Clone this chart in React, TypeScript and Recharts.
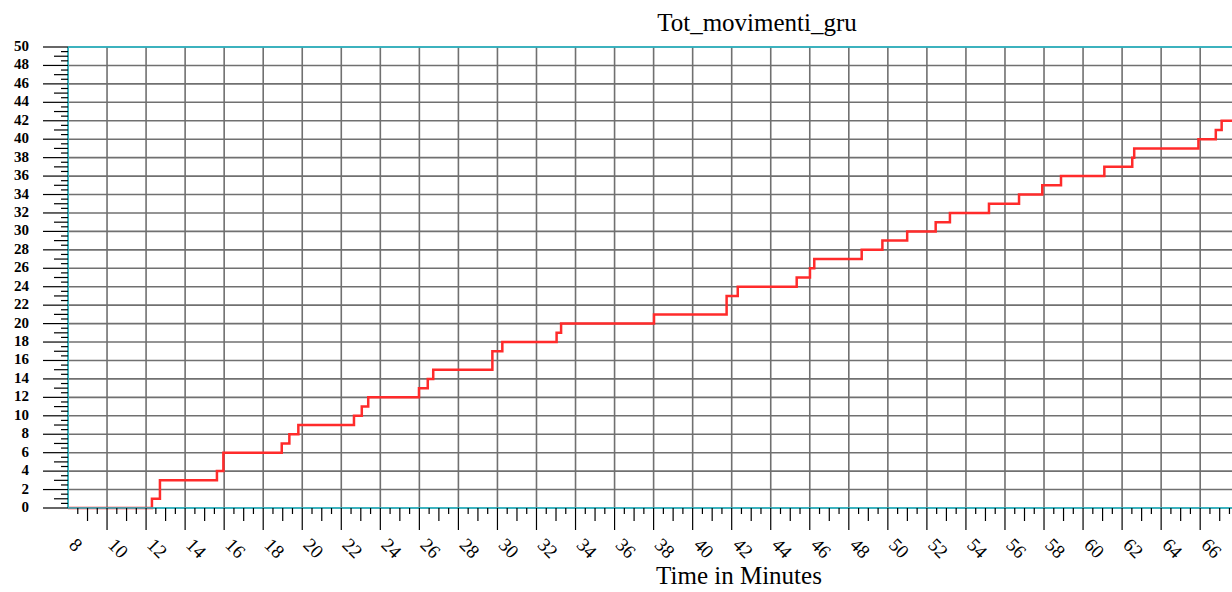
import React from "react";
import { LineChart, Line, XAxis, YAxis, CartesianGrid, ReferenceLine } from "recharts";

// step times (minutes) and cumulative crane movements
const TIMES = [
  8, 12.3, 12.71, 15.63, 15.96, 18.95, 19.34, 19.8, 22.65, 23.05, 23.38, 25.98, 26.43, 26.71,
  29.74, 30.25, 33.03, 33.26, 38.02, 41.74, 42.31, 45.33, 46.01, 46.23, 48.66, 49.72, 50.99,
  52.45, 53.18, 55.18, 56.72, 57.91, 58.87, 61.09, 62.52, 62.62, 65.91, 66.8, 67.1, 67.63,
];
const COUNTS = [
  0, 1, 3, 4, 6, 7, 8, 9, 10, 11, 12, 13, 14, 15,
  17, 18, 19, 20, 21, 23, 24, 25, 26, 27, 28, 29, 30,
  31, 32, 33, 34, 35, 36, 37, 38, 39, 40, 41, 42, 42,
];

const X_TICKS = [8, 10, 12, 14, 16, 18, 20, 22, 24, 26, 28, 30, 32, 34, 36, 38, 40, 42, 44, 46, 48, 50, 52, 54, 56, 58, 60, 62, 64, 66];
const Y_TICKS = [0, 2, 4, 6, 8, 10, 12, 14, 16, 18, 20, 22, 24, 26, 28, 30, 32, 34, 36, 38, 40, 42, 44, 46, 48, 50];

const X_MIN = 8;
const X_MAX = 67.63;

const TITLE = "Tot_movimenti_gru";
const X_LABEL = "Time in Minutes";

const CYAN = "#1fbccd";
const GRID = "#707070";
const RED = "#ff2b2b";
const FONT = "'Liberation Serif', 'Times New Roman', serif";

const data = TIMES.map((t, i) => ({ t, v: COUNTS[i] }));

// half-step minor ticks between the labelled ones
const xMinor: number[] = [];
for (let v = X_MIN; v <= X_MAX; v += 0.5) xMinor.push(v);
const yMinor: number[] = [];
for (let v = 0; v <= 50; v += 0.5) yMinor.push(v);

function XTick(props: any) {
  const { x, y, payload } = props;
  const v = payload.value;
  const major = v % 2 === 0;
  const mid = !major && v % 1 === 0;
  const len = major ? 22 : mid ? 13 : 6;
  const ly = y + 38;
  return (
    <g>
      {v !== X_MIN && <line x1={x} x2={x} y1={y} y2={y + len} stroke="#000" strokeWidth={1.2} />}
      {major && (
        <text x={x} y={ly} transform={`rotate(45 ${x} ${ly})`} fontFamily={FONT} fontSize={19} fill="#000">
          {v}
        </text>
      )}
    </g>
  );
}

function YTick(props: any) {
  const { x, y, payload } = props;
  const v = payload.value;
  const major = v % 2 === 0;
  const mid = !major && v % 1 === 0;
  const len = major ? 25 : mid ? 14 : 7;
  return (
    <g>
      <line x1={x - len} x2={x} y1={y} y2={y} stroke="#000" strokeWidth={1.2} />
      {major && (
        <text x={x - 39} y={y} dy={4} textAnchor="end" fontFamily={FONT} fontSize={15} fontWeight="bold" fill="#000">
          {v}
        </text>
      )}
    </g>
  );
}

export default function App() {
  return (
    <div style={{ position: "absolute", left: 0, top: 0, width: 1232, height: 592, overflow: "hidden", background: "#fff" }}>
      <LineChart width={1232} height={592} data={data} margin={{ top: 47, right: 0, bottom: 0, left: 0 }}>
        <CartesianGrid
          stroke={GRID}
          strokeWidth={1.6}
          horizontalValues={Y_TICKS}
          verticalValues={X_TICKS}
        />
        <XAxis
          type="number"
          dataKey="t"
          domain={[X_MIN, X_MAX]}
          allowDataOverflow
          ticks={xMinor}
          interval={0}
          height={84}
          tickSize={0}
          tickMargin={0}
          tickLine={false}
          axisLine={{ stroke: CYAN, strokeWidth: 1.5 }}
          tick={<XTick />}
        />
        <YAxis
          type="number"
          domain={[0, 50]}
          ticks={yMinor}
          interval={0}
          width={68}
          tickSize={0}
          tickMargin={0}
          tickLine={false}
          axisLine={{ stroke: CYAN, strokeWidth: 1.5 }}
          tick={<YTick />}
        />
        <ReferenceLine y={50} stroke={CYAN} strokeWidth={1.5} />
        <Line
          type="stepAfter"
          dataKey="v"
          stroke={RED}
          strokeWidth={2.5}
          dot={false}
          isAnimationActive={false}
        />
      </LineChart>
      <svg width={1232} height={592} style={{ position: "absolute", left: 0, top: 0, pointerEvents: "none" }}>
        <text x={757} y={31} textAnchor="middle" fontFamily={FONT} fontSize={25} fill="#000">
          {TITLE}
        </text>
        <text x={739} y={584} textAnchor="middle" fontFamily={FONT} fontSize={25} fill="#000">
          {X_LABEL}
        </text>
      </svg>
    </div>
  );
}
